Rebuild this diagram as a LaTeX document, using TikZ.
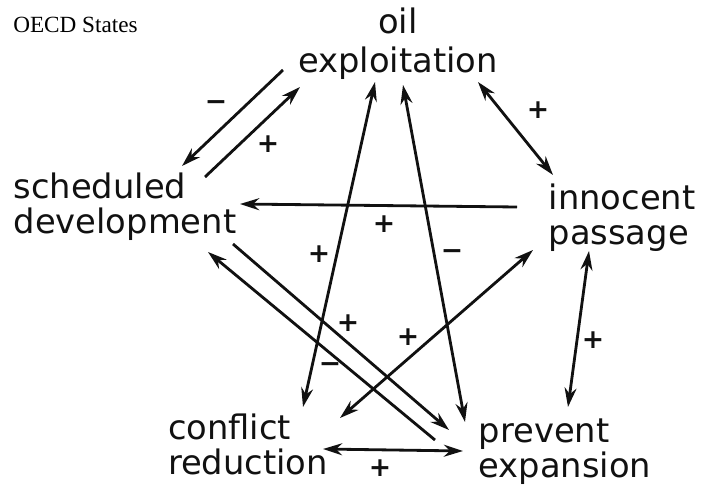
\documentclass[tikz,border=0pt]{standalone}
\usepackage{fontspec}
\setmainfont{DejaVu Sans}
\newfontfamily\titfont{Liberation Serif}
\usepackage{tikz}
\usetikzlibrary{arrows.meta, positioning, calc}
\definecolor{tinta}{HTML}{111111}
\tikzset{
  factor/.style={inner sep=0pt, align=left, text=tinta, font=\fontsize{24}{25}\selectfont},
  signo/.style={inner sep=0pt, text=tinta, font=\fontsize{19}{19}\selectfont\bfseries},
  arrow/.style={line width=2pt, ->, >={Stealth[length=4.8mm,width=3mm]}, color=tinta}
}
\begin{document}
\begin{tikzpicture}
  \useasboundingbox (0,0) rectangle (17.675,12.15);
  \node (titulo) [inner sep=0pt, anchor=west, font=\titfont\fontsize{16.5}{18}\selectfont] at (0.325,11.525) {OECD States};
  \node (oil) [factor, align=center, font=\fontsize{24}{28}\selectfont] at (9.95,11.05) {oil\\ exploitation};
  \node (sched) [factor] at (3.125,6.975) {scheduled\\ development};
  \node (innoc) [factor] at (15.55,6.7) {innocent\\ passage};
  \node (confl) [factor] at (6.2,1.05) {conflict\\ reduction};
  \node (prev) [factor] at (14.125,0.85) {prevent\\ expansion};
  \draw [arrow] ($(oil)+(-2.875,-0.65)$) -- ($(sched)+(1.425,1.025)$);
  \draw [arrow] ($(sched)+(2.0,0.75)$) -- ($(oil)+(-2.45,-1.075)$);
  \draw [arrow, <->] ($(oil)+(2.0,-0.95)$) -- ($(innoc)+(-1.725,1.075)$);
  \draw [arrow] ($(innoc)+(-2.625,0.275)$) -- ($(sched)+(2.875,0.075)$);
  \draw [arrow, <->] ($(oil)+(-0.575,-0.95)$) -- ($(confl)+(1.375,0.925)$);
  \draw [arrow, <->] ($(oil)+(0.125,-1.025)$) -- ($(prev)+(-2.5,0.75)$);
  \draw [arrow] ($(sched)+(2.7,-0.925)$) -- ($(prev)+(-2.9,0.55)$);
  \draw [arrow] ($(prev)+(-3.25,0.3)$) -- ($(sched)+(2.075,-1.125)$);
  \draw [arrow, <->] ($(innoc)+(-2.225,-0.8)$) -- ($(confl)+(2.3,0.65)$);
  \draw [arrow, <->] ($(confl)+(1.875,-0.125)$) -- ($(prev)+(-2.55,0.025)$);
  \draw [arrow, <->] ($(innoc)+(-0.825,-0.825)$) -- ($(prev)+(0.075,1.125)$);
  \node (s1) [signo] at (5.4,9.5) {−};
  \node (s2) [signo] at (6.7,8.55) {+};
  \node (s3) [signo] at (13.45,9.4) {+};
  \node (s4) [signo] at (9.6,6.55) {+};
  \node (s5) [signo] at (7.975,5.8) {+};
  \node (s6) [signo] at (11.3,5.775) {−};
  \node (s7) [signo] at (8.7,4.075) {+};
  \node (s8) [signo] at (8.25,2.95) {−};
  \node (s9) [signo] at (10.2,3.725) {+};
  \node (s10) [signo] at (9.5,0.45) {+};
  \node (s11) [signo] at (14.825,3.65) {+};
\end{tikzpicture}
\end{document}
